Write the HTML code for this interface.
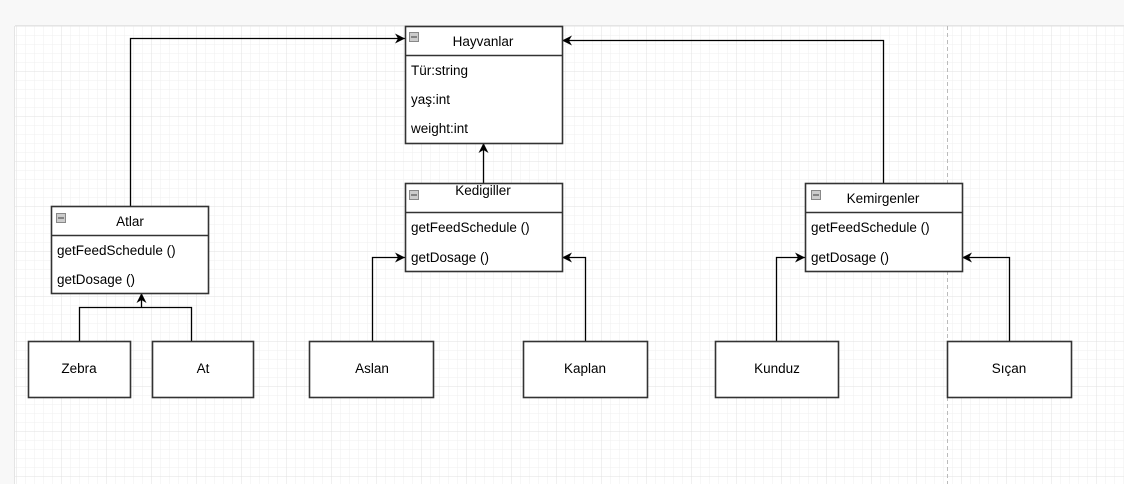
<!DOCTYPE html>
<html><head><meta charset="utf-8"><style>
html,body{margin:0;padding:0;background:#f8f8f8;}
svg{display:block;font-family:"Liberation Sans",Arial,sans-serif;}
</style></head><body>
<svg width="1124" height="484" viewBox="0 0 1124 484" xmlns="http://www.w3.org/2000/svg">
<defs>
<pattern id="minor" x="16.5" y="26.5" width="9" height="9" patternUnits="userSpaceOnUse">
<path d="M9 0V9M0 9H9" fill="none" stroke="#efefef" stroke-width="1"/>
</pattern>
<pattern id="major" x="16.5" y="26.5" width="45" height="45" patternUnits="userSpaceOnUse">
<path d="M45 0V45M0 45H45" fill="none" stroke="#e0e0e0" stroke-width="1"/>
</pattern>
<marker id="ar" viewBox="0 0 10 10" refX="10" refY="5" markerWidth="10" markerHeight="10" markerUnits="userSpaceOnUse" orient="auto">
<path d="M0 0L10 5L0 10L3 5Z" fill="#000"/>
</marker>
</defs>
<rect x="0" y="0" width="1124" height="484" fill="#f8f8f8"/>
<rect x="15" y="26" width="1109" height="458" fill="#fff"/>
<rect x="15" y="26" width="1109" height="458" fill="url(#minor)"/>
<rect x="15" y="26" width="1109" height="458" fill="url(#major)"/>
<line x1="14.5" y1="26" x2="14.5" y2="484" stroke="#e4e4e4"/>
<line x1="15" y1="25.5" x2="1124" y2="25.5" stroke="#e4e4e4"/>
<line x1="947.5" y1="26" x2="947.5" y2="484" stroke="#bbb" stroke-dasharray="4 3"/>

<g fill="none" stroke="#000" stroke-width="1.3">
<path d="M130.5 206V38.5H405" marker-end="url(#ar)"/>
<path d="M883.5 183V40.5H562" marker-end="url(#ar)"/>
<path d="M483.5 183V143" marker-end="url(#ar)"/>
<path d="M79.5 341V307.5H191.5V341"/>
<path d="M141.5 307.5V293" marker-end="url(#ar)"/>
<path d="M372.5 341V257.5H405" marker-end="url(#ar)"/>
<path d="M585.5 341V257.5H562" marker-end="url(#ar)"/>
<path d="M776.5 341V257.5H805" marker-end="url(#ar)"/>
<path d="M1009.5 341V257.5H962" marker-end="url(#ar)"/>
</g>

<g stroke="#333" stroke-width="1.6" fill="#fff">
<rect x="405.5" y="26.5" width="157" height="117"/>
<line x1="405" y1="55.5" x2="562" y2="55.5"/>
<rect x="405.5" y="183.5" width="157" height="88"/>
<line x1="405" y1="212.5" x2="562" y2="212.5"/>
<rect x="805.5" y="183.5" width="157" height="88"/>
<line x1="805" y1="212.5" x2="962" y2="212.5"/>
<rect x="51.5" y="206.5" width="157" height="87"/>
<line x1="51" y1="235.5" x2="208" y2="235.5"/>
<rect x="28.5" y="341.5" width="102" height="56"/>
<rect x="152.5" y="341.5" width="101" height="56"/>
<rect x="309.5" y="341.5" width="124" height="56"/>
<rect x="523.5" y="341.5" width="124" height="56"/>
<rect x="715.5" y="341.5" width="123" height="56"/>
<rect x="947.5" y="341.5" width="124" height="56"/>
</g>

<g fill="#ccc" stroke="#888" stroke-width="1">
<rect x="409.5" y="32.5" width="9" height="9"/>
<rect x="409.5" y="190.5" width="9" height="9"/>
<rect x="811.5" y="190.5" width="9" height="9"/>
<rect x="56.5" y="213.5" width="9" height="9"/>
</g>
<g stroke="#555" stroke-width="1.2">
<line x1="411" y1="37" x2="417" y2="37"/>
<line x1="411" y1="195" x2="417" y2="195"/>
<line x1="813" y1="195" x2="819" y2="195"/>
<line x1="58" y1="218" x2="64" y2="218"/>
</g>

<g font-size="13.5" fill="#000">
<text x="483" y="46" text-anchor="middle">Hayvanlar</text>
<text x="411" y="75">Tür:string</text>
<text x="411" y="104">yaş:int</text>
<text x="411" y="133">weight:int</text>
<text x="483" y="195" text-anchor="middle">Kedigiller</text>
<text x="411" y="232">getFeedSchedule ()</text>
<text x="411" y="262">getDosage ()</text>
<text x="883" y="203" text-anchor="middle">Kemirgenler</text>
<text x="811" y="232">getFeedSchedule ()</text>
<text x="811" y="262">getDosage ()</text>
<text x="130" y="226" text-anchor="middle">Atlar</text>
<text x="57" y="255">getFeedSchedule ()</text>
<text x="57" y="284">getDosage ()</text>
<text x="79" y="373" text-anchor="middle">Zebra</text>
<text x="203" y="373" text-anchor="middle">At</text>
<text x="372" y="373" text-anchor="middle">Aslan</text>
<text x="585" y="373" text-anchor="middle">Kaplan</text>
<text x="777" y="373" text-anchor="middle">Kunduz</text>
<text x="1009" y="373" text-anchor="middle">Sıçan</text>
</g>
</svg>
</body></html>
